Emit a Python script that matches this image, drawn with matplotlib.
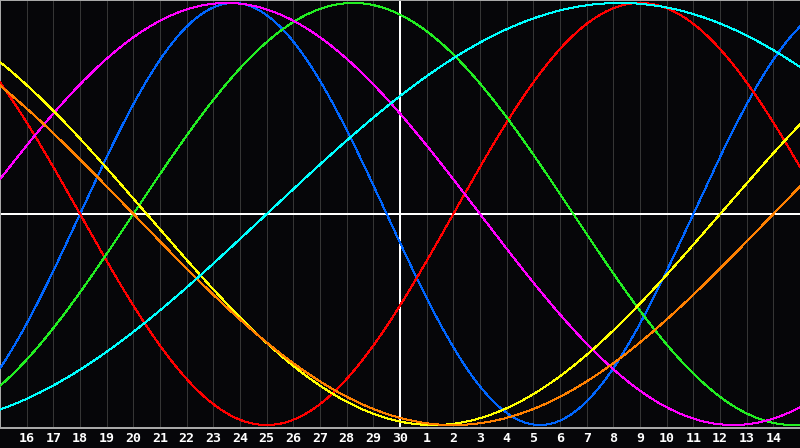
import numpy as np
import matplotlib
matplotlib.use("Agg")
import matplotlib.pyplot as plt

# biorhythm cycles (days) and their colours
periods = [23, 28, 33, 38, 43, 48, 53]
colors = ["#0066ff", "#ff0000", "#22ee22", "#ff00ff", "#ffff00", "#ff8000", "#00ffff"]

# days lived at the left edge of the chart, today is 15 days later
days_at_left = 29299
today_offset = 15

# day-of-month labels on each grid line (grid line k = 1..29)
day_labels = [str(d) for d in range(16, 31)] + [str(d) for d in range(1, 15)]
n_days = 30

bg = "#060609"
px = 72 / 100  # one pixel in points

fig = plt.figure(figsize=(8, 4.48), dpi=100, facecolor=bg)
ax = fig.add_axes([0, 20 / 448, 1, 428 / 448])
ax.set_facecolor(bg)

# day grid
for k in range(1, n_days):
    ax.axvline(k, color="#353535", lw=px, zorder=1, antialiased=False)

ax.axhline(0, color="white", lw=2 * px, zorder=2, antialiased=False)
ax.axvline(today_offset, color="white", lw=2 * px, zorder=2, antialiased=False)

t = np.linspace(0, n_days, 1600)
for p, c in zip(periods, colors):
    y = np.sin(2 * np.pi * (days_at_left + t) / p)
    ax.plot(t, y, color=c, lw=px, zorder=3, antialiased=False)

ax.set_xlim(0, n_days)
ax.set_ylim(-1.014, 1.014)
ax.set_yticks([])
ax.set_xticks(range(1, n_days), day_labels)
ax.tick_params(axis="x", length=0, pad=3, colors="white")
for lab in ax.get_xticklabels():
    lab.set_fontfamily("DejaVu Sans Mono")
    lab.set_fontweight("bold")
    lab.set_fontsize(9.5)

for side in ["top", "bottom", "left"]:
    ax.spines[side].set_color("#a8a8a8")
    ax.spines[side].set_linewidth(2 * px)
ax.spines["right"].set_visible(False)

fig.savefig("out.png", dpi=100, facecolor=bg)
